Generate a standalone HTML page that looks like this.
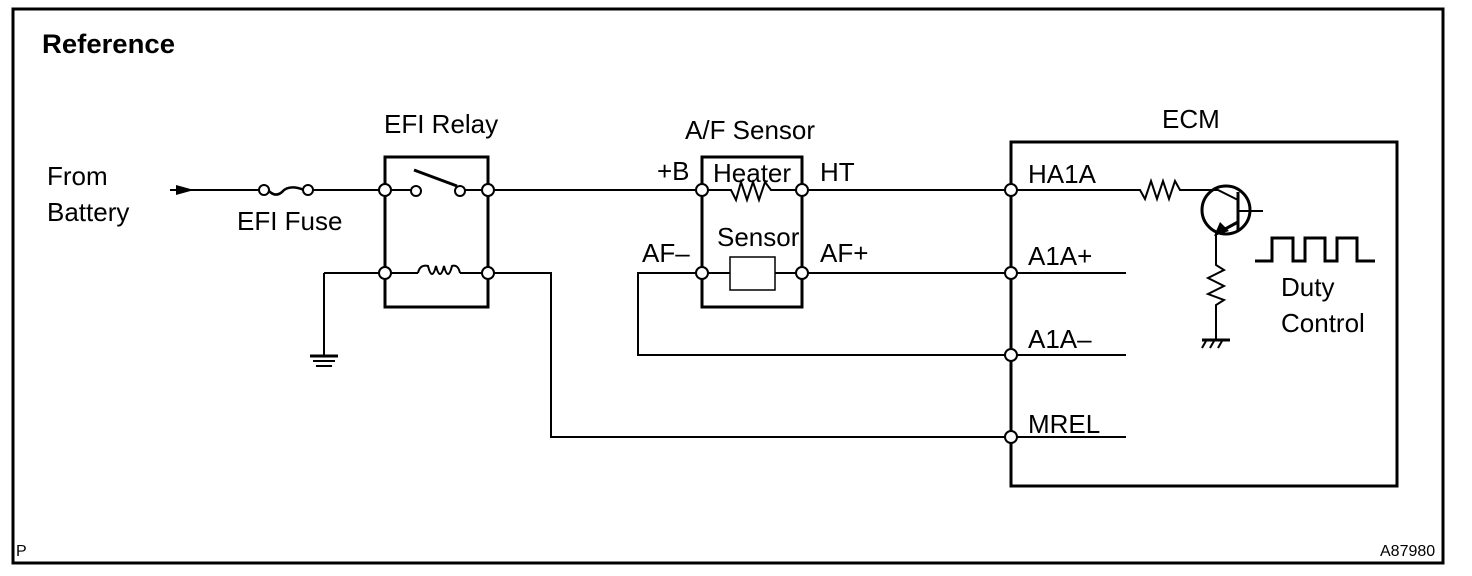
<!DOCTYPE html>
<html><head><meta charset="utf-8"><style>
html,body{margin:0;padding:0;background:#fff}
svg{display:block}
text{font-family:"Liberation Sans",Arial,sans-serif;fill:#000}
</style></head><body>
<svg width="1472" height="576" viewBox="0 0 1472 576" xmlns="http://www.w3.org/2000/svg">
<rect x="13" y="9" width="1430" height="554" fill="none" stroke="#000" stroke-width="3"/>
<text x="42" y="53" font-size="27" font-weight="bold" textLength="133" lengthAdjust="spacingAndGlyphs">Reference</text>
<g font-size="26">
<text x="47" y="185">From</text>
<text x="47" y="221">Battery</text>
<text x="237" y="230">EFI Fuse</text>
<text x="384" y="133">EFI Relay</text>
<text x="685" y="139">A/F Sensor</text>
<text x="657" y="180">+B</text>
<text x="713" y="182">Heater</text>
<text x="820" y="181">HT</text>
<text x="717" y="246">Sensor</text>
<text x="642" y="262">AF–</text>
<text x="820" y="262">AF+</text>
<text x="1162" y="128">ECM</text>
<text x="1028" y="183">HA1A</text>
<text x="1028" y="265">A1A+</text>
<text x="1028" y="348">A1A–</text>
<text x="1028" y="433">MREL</text>
<text x="1281" y="296">Duty</text>
<text x="1281" y="332">Control</text>
</g>
<text x="16" y="556" font-size="16">P</text>
<text x="1380" y="556" font-size="16">A87980</text>
<g fill="none" stroke="#000" stroke-width="2">
<line x1="170" y1="190" x2="259" y2="190"/>
<path d="M268 190 Q275 198 282 192 Q289 184 304 190" stroke-width="2.5"/>
<line x1="313" y1="190" x2="380" y2="190"/>
<line x1="390" y1="190" x2="411" y2="190"/>
<line x1="465" y1="190" x2="483" y2="190"/>
<line x1="493" y1="190" x2="697" y2="190"/>
<rect x="385" y="157" width="103" height="150" stroke-width="3"/>
<line x1="414" y1="170" x2="457" y2="186" stroke-width="3"/>
<line x1="324" y1="273" x2="380" y2="273"/>
<line x1="390" y1="273" x2="418" y2="273"/>
<path d="M418 273 Q420 264 428 266 Q432 282 436 266 Q440 282 444 266 Q448 282 452 266 Q458 264 460 273"/>
<line x1="460" y1="273" x2="483" y2="273"/>
<line x1="324" y1="273" x2="324" y2="355"/>
<line x1="310" y1="356" x2="338" y2="356" stroke-width="3"/>
<line x1="313" y1="361" x2="335" y2="361"/>
<line x1="316" y1="366" x2="332" y2="366"/>
<polyline points="493,273 551,273 551,437 1006,437"/>
<rect x="702" y="157" width="100" height="150" stroke-width="3"/>
<polyline points="707,190 731,190 736,200 741,182 747,200 753,182 759,200 765,182 771,190 797,190"/>
<line x1="807" y1="190" x2="1006" y2="190"/>
<rect x="730" y="257" width="45" height="33" stroke-width="1.5"/>
<line x1="707" y1="273" x2="730" y2="273"/>
<line x1="775" y1="273" x2="797" y2="273"/>
<line x1="807" y1="273" x2="1006" y2="273"/>
<polyline points="697,273 638,273 638,355 1006,355"/>
<rect x="1011" y="142" width="386" height="344" stroke-width="3"/>
<line x1="1016" y1="273" x2="1126" y2="273"/>
<line x1="1016" y1="355" x2="1126" y2="355"/>
<line x1="1016" y1="437" x2="1126" y2="437"/>
<polyline points="1016,190 1140,190 1145,199 1151,181 1157,199 1163,181 1169,199 1175,181 1180,190 1218,190 1238,200"/>
<circle cx="1226" cy="210" r="24" stroke-width="3"/>
<line x1="1238" y1="192" x2="1238" y2="230" stroke-width="3"/>
<line x1="1238" y1="211" x2="1263" y2="211"/>
<line x1="1238" y1="222" x2="1216" y2="234" stroke-width="3"/>
<polyline points="1216,234 1216,265 1224,270 1208,278 1224,286 1208,294 1224,300 1216,305 1216,340"/>
<line x1="1202" y1="340" x2="1230" y2="340" stroke-width="3"/>
<line x1="1206" y1="341" x2="1202" y2="348"/>
<line x1="1214" y1="341" x2="1210" y2="348"/>
<line x1="1222" y1="341" x2="1218" y2="348"/>
<polyline points="1255,261 1272,261 1272,238 1293,238 1293,261 1305,261 1305,238 1325,238 1325,261 1337,261 1337,238 1357,238 1357,261 1375,261" stroke-width="3"/>
</g>
<polygon points="176,185 194,190 176,195" fill="#000"/>
<polygon points="1214,236 1220,222 1229,231" fill="#000"/>
<g fill="#fff" stroke="#000" stroke-width="2">
<circle cx="264" cy="190" r="5"/><circle cx="308" cy="190" r="5"/>
<circle cx="385" cy="190" r="6"/><circle cx="488" cy="190" r="6"/>
<circle cx="416" cy="191" r="5"/><circle cx="460" cy="191" r="5"/>
<circle cx="385" cy="273" r="6"/><circle cx="488" cy="273" r="6"/>
<circle cx="702" cy="190" r="6"/><circle cx="802" cy="190" r="6"/>
<circle cx="702" cy="273" r="6"/><circle cx="802" cy="273" r="6"/>
<circle cx="1011" cy="190" r="6"/><circle cx="1011" cy="273" r="6"/>
<circle cx="1011" cy="355" r="6"/><circle cx="1011" cy="437" r="6"/>
</g>
</svg>
</body></html>
